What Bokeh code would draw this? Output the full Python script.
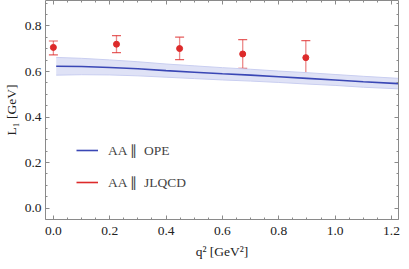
from bokeh.plotting import figure
from bokeh.models import (ColumnDataSource, Whisker, TeeHead, LinearAxis, SingleIntervalTicker,
                          PrintfTickFormatter, CustomJSTickFormatter, Legend, LegendItem, Range1d)
from bokeh.embed import file_html
from bokeh.resources import INLINE

# OPE curve with uncertainty band
q2_ope = [0.01, 0.1, 0.2, 0.3, 0.4, 0.5, 0.6, 0.7, 0.8, 0.9, 1.0, 1.1, 1.225]
L1_ope = [0.623, 0.622, 0.618, 0.612, 0.604, 0.597, 0.590, 0.584, 0.577, 0.570, 0.563, 0.555, 0.547]
L1_ope_err = [0.039, 0.036, 0.033, 0.031, 0.029, 0.028, 0.027, 0.026, 0.025, 0.025, 0.024, 0.024, 0.023]

# JLQCD lattice points
q2_lat = [0.0, 0.224, 0.448, 0.672, 0.896]
L1_lat = [0.706, 0.720, 0.701, 0.677, 0.661]
L1_lat_lo = [0.673, 0.683, 0.652, 0.614, 0.584]
L1_lat_hi = [0.734, 0.758, 0.751, 0.740, 0.736]

label_ope = "AA \u2225  OPE"
label_lat = "AA \u2225  JLQCD"

FONT = "Liberation Serif"
BLUE = "#3a47b5"
RED = "#dd2a2a"

p = figure(width=401, height=261, output_backend="svg", toolbar_location=None,
           x_range=Range1d(-0.028, 1.225), y_range=Range1d(-0.05, 0.912),
           min_border_left=0, min_border_right=3, min_border_top=0, min_border_bottom=0)
p.grid.visible = False
p.outline_line_color = None
p.background_fill_color = "white"

ope = ColumnDataSource(dict(x=q2_ope, y=L1_ope,
                            lo=[a - b for a, b in zip(L1_ope, L1_ope_err)],
                            hi=[a + b for a, b in zip(L1_ope, L1_ope_err)]))
p.varea(x="x", y1="lo", y2="hi", source=ope, fill_color="#dfe2f6", fill_alpha=1.0)
p.line(x="x", y="lo", source=ope, line_color="#c9cef0", line_width=1)
p.line(x="x", y="hi", source=ope, line_color="#c9cef0", line_width=1)
r_ope = p.line(x="x", y="y", source=ope, line_color=BLUE, line_width=1.6)

lat = ColumnDataSource(dict(x=q2_lat, y=L1_lat, lo=L1_lat_lo, hi=L1_lat_hi))
w = Whisker(base="x", lower="lo", upper="hi", source=lat, line_color=RED, line_alpha=0.55,
            line_width=1.3,
            upper_head=TeeHead(size=9, line_color=RED, line_alpha=0.75, line_width=1.2),
            lower_head=TeeHead(size=9, line_color=RED, line_alpha=0.75, line_width=1.2))
p.add_layout(w)
p.scatter(x="x", y="y", source=lat, size=6, fill_color=RED, line_color=RED)
r_lat_dummy = p.line(x=[0.0, 0.0], y=[None, None], line_color=RED, line_width=1.6)

legend = Legend(items=[LegendItem(label=label_ope, renderers=[r_ope]),
                       LegendItem(label=label_lat, renderers=[r_lat_dummy])],
                location=(31, 27), background_fill_alpha=0, border_line_color=None,
                label_text_font=FONT, label_text_font_size="13.5px", glyph_width=22,
                spacing=12, label_standoff=10, padding=10, margin=0)
p.add_layout(legend, "center")

AX = "#8a8a8a"
def style(ax, labels=True):
    ax.ticker = SingleIntervalTicker(interval=0.2, num_minor_ticks=4)
    ax.formatter = PrintfTickFormatter(format="%.1f")
    ax.axis_line_color = AX
    ax.major_tick_line_color = AX
    ax.minor_tick_line_color = AX
    ax.major_tick_in = 4
    ax.major_tick_out = 0
    ax.minor_tick_in = 2
    ax.minor_tick_out = 0
    ax.major_label_text_font = FONT
    ax.major_label_text_font_size = "13.5px"
    ax.major_label_text_color = "#222222"
    ax.axis_label_text_font = FONT
    ax.axis_label_text_font_size = "13.5px"
    ax.axis_label_text_font_style = "normal"
    ax.axis_label_text_color = "#222222"
    if not labels:
        ax.formatter = CustomJSTickFormatter(code="return ''")
        ax.major_label_standoff = 0
        ax.axis_label = None

style(p.xaxis[0])
style(p.yaxis[0])
p.xaxis[0].axis_label = "q\u00b2 [GeV\u00b2]"
p.yaxis[0].axis_label = "L\u2081 [GeV]"
p.xaxis[0].major_label_standoff = 7
p.yaxis[0].major_label_standoff = 4
p.xaxis[0].axis_label_standoff = 6
p.yaxis[0].axis_label_standoff = 3

top = LinearAxis()
right = LinearAxis()
p.add_layout(top, "above")
p.add_layout(right, "right")
style(top, labels=False)
style(right, labels=False)

open("out.html", "w").write(file_html(p, INLINE))
